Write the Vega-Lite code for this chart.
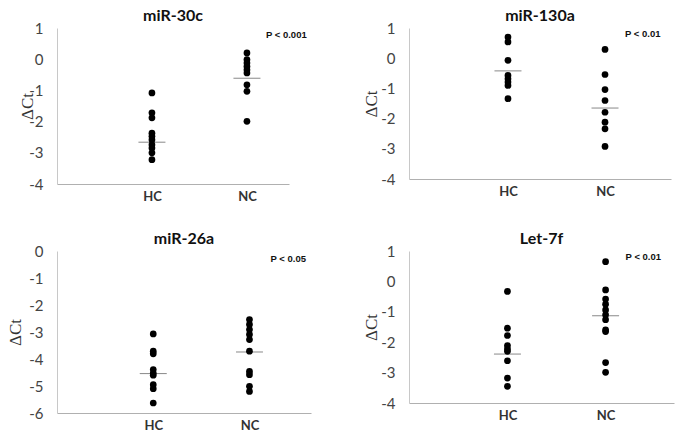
{
  "$schema": "https://vega.github.io/schema/vega-lite/v6.json",
  "background": "white",
  "padding": {"left": 6, "top": 8, "right": 5, "bottom": 2},
  "spacing": {"row": 28, "column": 51},
  "config": {
    "font": "Lato",
    "view": {"stroke": null},
    "axisX": {"labelFontWeight": "bold", "labelFontSize": 13, "labelColor": "#333", "labelAngle": 0, "ticks": false, "domainColor": "#b0b0b0", "labelPadding": 6, "title": null, "grid": false},
    "axisY": {"labelFontSize": 15, "labelColor": "#444", "labelExpr": "'' + datum.value", "labelOverlap": false, "labelFlush": false, "ticks": false, "domainColor": "#c8c8c8", "labelPadding": 14, "grid": false, "titleFont": "Liberation Serif", "titleFontWeight": "normal", "titleFontSize": 17, "titleColor": "#333", "titlePadding": -8},
    "title": {"fontSize": 16, "fontWeight": "bold", "color": "#111", "offset": -3},
    "point": {"filled": true, "color": "black", "size": 45, "opacity": 1},
    "tick": {"color": "#555", "thickness": 1}
  },
  "datasets": {
    "pts": [
      {"panel": "miR-30c", "group": "HC", "dct": -1.08},
      {"panel": "miR-30c", "group": "HC", "dct": -1.72},
      {"panel": "miR-30c", "group": "HC", "dct": -1.88},
      {"panel": "miR-30c", "group": "HC", "dct": -2.37},
      {"panel": "miR-30c", "group": "HC", "dct": -2.47},
      {"panel": "miR-30c", "group": "HC", "dct": -2.58},
      {"panel": "miR-30c", "group": "HC", "dct": -2.74},
      {"panel": "miR-30c", "group": "HC", "dct": -2.85},
      {"panel": "miR-30c", "group": "HC", "dct": -3.0},
      {"panel": "miR-30c", "group": "HC", "dct": -3.22},
      {"panel": "miR-30c", "group": "NC", "dct": 0.2},
      {"panel": "miR-30c", "group": "NC", "dct": -0.01},
      {"panel": "miR-30c", "group": "NC", "dct": -0.12},
      {"panel": "miR-30c", "group": "NC", "dct": -0.23},
      {"panel": "miR-30c", "group": "NC", "dct": -0.34},
      {"panel": "miR-30c", "group": "NC", "dct": -0.44},
      {"panel": "miR-30c", "group": "NC", "dct": -0.82},
      {"panel": "miR-30c", "group": "NC", "dct": -1.03},
      {"panel": "miR-30c", "group": "NC", "dct": -1.99},
      {"panel": "miR-130a", "group": "HC", "dct": 0.7},
      {"panel": "miR-130a", "group": "HC", "dct": 0.54},
      {"panel": "miR-130a", "group": "HC", "dct": -0.07},
      {"panel": "miR-130a", "group": "HC", "dct": -0.57},
      {"panel": "miR-130a", "group": "HC", "dct": -0.68},
      {"panel": "miR-130a", "group": "HC", "dct": -0.79},
      {"panel": "miR-130a", "group": "HC", "dct": -0.9},
      {"panel": "miR-130a", "group": "HC", "dct": -1.34},
      {"panel": "miR-130a", "group": "NC", "dct": 0.29},
      {"panel": "miR-130a", "group": "NC", "dct": -0.54},
      {"panel": "miR-130a", "group": "NC", "dct": -1.04},
      {"panel": "miR-130a", "group": "NC", "dct": -1.4},
      {"panel": "miR-130a", "group": "NC", "dct": -1.79},
      {"panel": "miR-130a", "group": "NC", "dct": -2.12},
      {"panel": "miR-130a", "group": "NC", "dct": -2.34},
      {"panel": "miR-130a", "group": "NC", "dct": -2.92},
      {"panel": "miR-26a", "group": "HC", "dct": -3.07},
      {"panel": "miR-26a", "group": "HC", "dct": -3.71},
      {"panel": "miR-26a", "group": "HC", "dct": -3.81},
      {"panel": "miR-26a", "group": "HC", "dct": -4.39},
      {"panel": "miR-26a", "group": "HC", "dct": -4.52},
      {"panel": "miR-26a", "group": "HC", "dct": -4.6},
      {"panel": "miR-26a", "group": "HC", "dct": -4.95},
      {"panel": "miR-26a", "group": "HC", "dct": -5.1},
      {"panel": "miR-26a", "group": "HC", "dct": -5.63},
      {"panel": "miR-26a", "group": "NC", "dct": -2.54},
      {"panel": "miR-26a", "group": "NC", "dct": -2.72},
      {"panel": "miR-26a", "group": "NC", "dct": -2.91},
      {"panel": "miR-26a", "group": "NC", "dct": -3.09},
      {"panel": "miR-26a", "group": "NC", "dct": -3.28},
      {"panel": "miR-26a", "group": "NC", "dct": -3.71},
      {"panel": "miR-26a", "group": "NC", "dct": -4.46},
      {"panel": "miR-26a", "group": "NC", "dct": -4.58},
      {"panel": "miR-26a", "group": "NC", "dct": -5.01},
      {"panel": "miR-26a", "group": "NC", "dct": -5.2},
      {"panel": "Let-7f", "group": "HC", "dct": -0.33},
      {"panel": "Let-7f", "group": "HC", "dct": -1.54},
      {"panel": "Let-7f", "group": "HC", "dct": -1.78},
      {"panel": "Let-7f", "group": "HC", "dct": -2.11},
      {"panel": "Let-7f", "group": "HC", "dct": -2.22},
      {"panel": "Let-7f", "group": "HC", "dct": -2.3},
      {"panel": "Let-7f", "group": "HC", "dct": -2.61},
      {"panel": "Let-7f", "group": "HC", "dct": -3.18},
      {"panel": "Let-7f", "group": "HC", "dct": -3.45},
      {"panel": "Let-7f", "group": "NC", "dct": 0.65},
      {"panel": "Let-7f", "group": "NC", "dct": -0.28},
      {"panel": "Let-7f", "group": "NC", "dct": -0.58},
      {"panel": "Let-7f", "group": "NC", "dct": -0.75},
      {"panel": "Let-7f", "group": "NC", "dct": -0.94},
      {"panel": "Let-7f", "group": "NC", "dct": -1.1},
      {"panel": "Let-7f", "group": "NC", "dct": -1.26},
      {"panel": "Let-7f", "group": "NC", "dct": -1.59},
      {"panel": "Let-7f", "group": "NC", "dct": -1.65},
      {"panel": "Let-7f", "group": "NC", "dct": -2.67},
      {"panel": "Let-7f", "group": "NC", "dct": -2.99}
    ],
    "means": [
      {"panel": "miR-30c", "group": "HC", "dct": -2.66},
      {"panel": "miR-30c", "group": "NC", "dct": -0.61},
      {"panel": "miR-130a", "group": "HC", "dct": -0.42},
      {"panel": "miR-130a", "group": "NC", "dct": -1.65},
      {"panel": "miR-26a", "group": "HC", "dct": -4.54},
      {"panel": "miR-26a", "group": "NC", "dct": -3.74},
      {"panel": "Let-7f", "group": "HC", "dct": -2.39},
      {"panel": "Let-7f", "group": "NC", "dct": -1.13}
    ],
    "pvals": [
      {"panel": "miR-30c", "group": "NC", "dct": 0.78, "label": "P < 0.001"},
      {"panel": "miR-130a", "group": "NC", "dct": 0.8, "label": "P < 0.01"},
      {"panel": "miR-26a", "group": "NC", "dct": -0.3, "label": "P < 0.05"},
      {"panel": "Let-7f", "group": "NC", "dct": 0.8, "label": "P < 0.01"}
    ]
  },
  "columns": 2,
  "concat": [
    {
      "title": "miR-30c",
      "width": 232, "height": 156,
      "encoding": {
        "x": {"field": "group", "type": "nominal", "scale": {"type": "point", "domain": ["HC", "NC"], "padding": 0.721, "align": 0.693}},
        "y": {"field": "dct", "type": "quantitative", "scale": {"domain": [-4, 1], "nice": false, "zero": false}, "axis": {"values": [-4, -3, -2, -1, 0, 1], "title": "ΔCt"}}
      },
      "layer": [
        {"data": {"name": "means"}, "transform": [{"filter": "datum.panel === 'miR-30c'"}], "mark": {"type": "tick", "size": 27, "orient": "horizontal"}},
        {"data": {"name": "pts"}, "transform": [{"filter": "datum.panel === 'miR-30c'"}], "mark": {"type": "point"}},
        {"data": {"name": "pvals"}, "transform": [{"filter": "datum.panel === 'miR-30c'"}], "mark": {"type": "text", "align": "left", "dx": 19, "fontSize": 9.5, "fontWeight": "bold", "font": "Liberation Sans", "color": "#111"},
         "encoding": {"text": {"field": "label"}}}
      ]
    },
    {
      "title": "miR-130a",
      "width": 262, "height": 151,
      "encoding": {
        "x": {"field": "group", "type": "nominal", "scale": {"type": "point", "domain": ["HC", "NC"], "padding": 0.85, "align": 0.6}},
        "y": {"field": "dct", "type": "quantitative", "scale": {"domain": [-4, 1], "nice": false, "zero": false}, "axis": {"values": [-4, -3, -2, -1, 0, 1], "title": "ΔCt", "titlePadding": 0}}
      },
      "layer": [
        {"data": {"name": "means"}, "transform": [{"filter": "datum.panel === 'miR-130a'"}], "mark": {"type": "tick", "size": 27, "orient": "horizontal"}},
        {"data": {"name": "pts"}, "transform": [{"filter": "datum.panel === 'miR-130a'"}], "mark": {"type": "point"}},
        {"data": {"name": "pvals"}, "transform": [{"filter": "datum.panel === 'miR-130a'"}], "mark": {"type": "text", "align": "left", "dx": 20, "fontSize": 9.5, "fontWeight": "bold", "font": "Liberation Sans", "color": "#111"},
         "encoding": {"text": {"field": "label"}}}
      ]
    },
    {
      "title": "miR-26a",
      "width": 254, "height": 162,
      "encoding": {
        "x": {"field": "group", "type": "nominal", "scale": {"type": "point", "domain": ["HC", "NC"], "padding": 0.82, "align": 0.61}},
        "y": {"field": "dct", "type": "quantitative", "scale": {"domain": [-6, 0], "nice": false, "zero": false}, "axis": {"values": [-6, -5, -4, -3, -2, -1, 0], "title": "ΔCt", "titlePadding": 4}}
      },
      "layer": [
        {"data": {"name": "means"}, "transform": [{"filter": "datum.panel === 'miR-26a'"}], "mark": {"type": "tick", "size": 27, "orient": "horizontal"}},
        {"data": {"name": "pts"}, "transform": [{"filter": "datum.panel === 'miR-26a'"}], "mark": {"type": "point"}},
        {"data": {"name": "pvals"}, "transform": [{"filter": "datum.panel === 'miR-26a'"}], "mark": {"type": "text", "align": "left", "dx": 21, "fontSize": 9.5, "fontWeight": "bold", "font": "Liberation Sans", "color": "#111"},
         "encoding": {"text": {"field": "label"}}}
      ]
    },
    {
      "title": "Let-7f",
      "width": 265, "height": 152,
      "encoding": {
        "x": {"field": "group", "type": "nominal", "scale": {"type": "point", "domain": ["HC", "NC"], "padding": 0.85, "align": 0.59}},
        "y": {"field": "dct", "type": "quantitative", "scale": {"domain": [-4, 1], "nice": false, "zero": false}, "axis": {"values": [-4, -3, -2, -1, 0, 1], "title": "ΔCt", "titlePadding": 0}}
      },
      "layer": [
        {"data": {"name": "means"}, "transform": [{"filter": "datum.panel === 'Let-7f'"}], "mark": {"type": "tick", "size": 27, "orient": "horizontal"}},
        {"data": {"name": "pts"}, "transform": [{"filter": "datum.panel === 'Let-7f'"}], "mark": {"type": "point"}},
        {"data": {"name": "pvals"}, "transform": [{"filter": "datum.panel === 'Let-7f'"}], "mark": {"type": "text", "align": "left", "dx": 20, "fontSize": 9.5, "fontWeight": "bold", "font": "Liberation Sans", "color": "#111"},
         "encoding": {"text": {"field": "label"}}}
      ]
    }
  ]
}
